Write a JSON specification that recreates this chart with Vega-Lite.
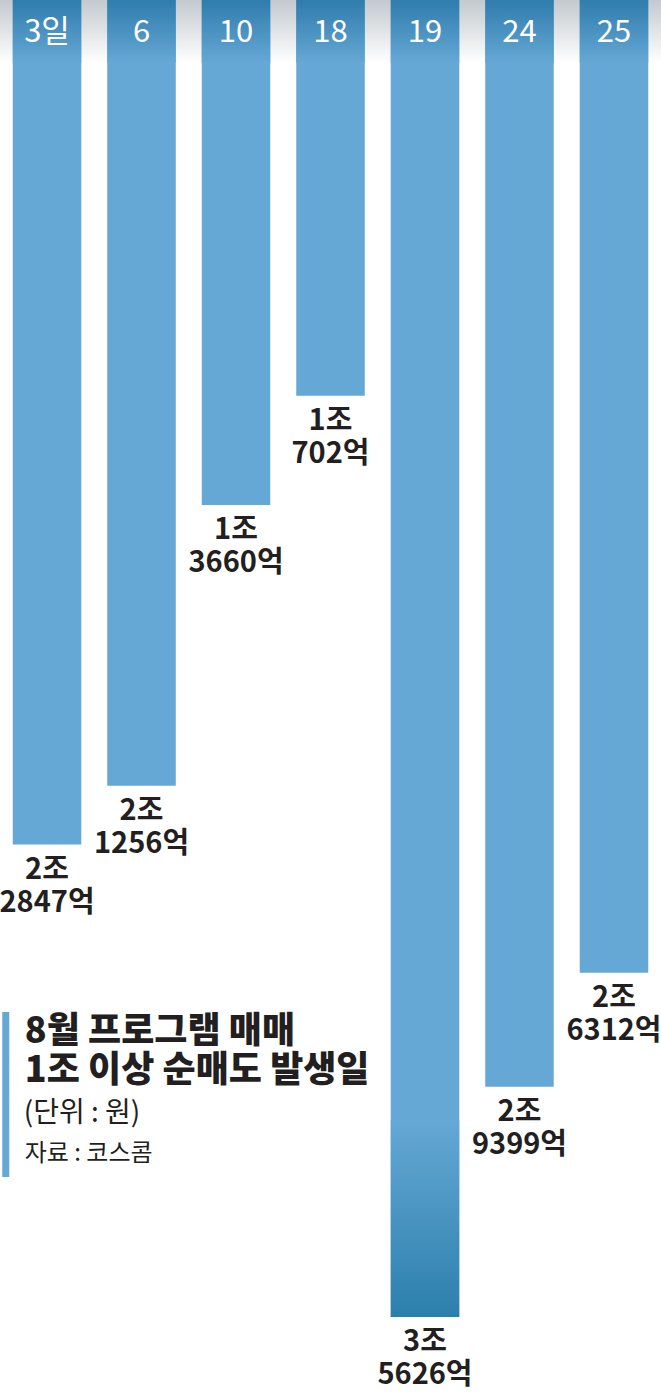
{
  "$schema": "https://vega.github.io/schema/vega-lite/v6.json",
  "width": 661,
  "height": 1394,
  "padding": 0,
  "autosize": {"type": "none"},
  "background": "#ffffff",
  "view": {
    "stroke": null,
    "fill": {"gradient": "linear", "x1": 0, "y1": 0, "x2": 0, "y2": 1,
      "stops": [{"offset": 0, "color": "#c3c9ce"}, {"offset": 0.045, "color": "#ffffff"}, {"offset": 1, "color": "#ffffff"}]}
  },
  "data": {"values": [
    {"day": "3일", "value": 22847, "label": "2조\n2847억"},
    {"day": "6", "value": 21256, "label": "2조\n1256억"},
    {"day": "10", "value": 13660, "label": "1조\n3660억"},
    {"day": "18", "value": 10702, "label": "1조\n702억"},
    {"day": "19", "value": 35626, "label": "3조\n5626억"},
    {"day": "24", "value": 29399, "label": "2조\n9399억"},
    {"day": "25", "value": 26312, "label": "2조\n6312억"}
  ]},
  "encoding": {
    "x": {"field": "day", "type": "nominal", "sort": null,
      "scale": {"paddingInner": 0.275, "paddingOuter": 0.135}, "axis": null}
  },
  "layer": [
    {
      "mark": {"type": "bar", "color": "#65a8d5"},
      "encoding": {
        "y": {"field": "value", "type": "quantitative",
          "scale": {"domain": [0, 37708], "reverse": true, "nice": false, "zero": true}, "axis": null}
      }
    },
    {
      "mark": {"type": "bar", "color": {"gradient": "linear", "x1": 0, "y1": 0, "x2": 0, "y2": 1,
        "stops": [{"offset": 0, "color": "#2f7cad"}, {"offset": 1, "color": "#65a8d5"}]}},
      "encoding": {"y": {"datum": 0, "type": "quantitative"}, "y2": {"datum": 1700}}
    },
    {
      "transform": [{"filter": "datum.day == '19'"}],
      "mark": {"type": "bar", "color": {"gradient": "linear", "x1": 0, "y1": 0, "x2": 0, "y2": 1,
        "stops": [{"offset": 0, "color": "#65a8d5"}, {"offset": 1, "color": "#2c7fac"}]}},
      "encoding": {"y": {"field": "value", "type": "quantitative"}, "y2": {"datum": 30300}}
    },
    {
      "mark": {"type": "text", "color": "#ffffff", "fontSize": 31, "font": "Noto Sans CJK KR", "baseline": "alphabetic", "align": "center"},
      "encoding": {"y": {"datum": 1140, "type": "quantitative"}, "text": {"field": "day"}}
    },
    {
      "mark": {"type": "text", "color": "#231f20", "fontSize": 29, "fontWeight": "bold", "font": "Noto Sans CJK KR", "baseline": "alphabetic", "align": "center", "dy": 34, "lineBreak": "\n", "lineHeight": 33},
      "encoding": {"y": {"field": "value", "type": "quantitative"}, "text": {"field": "label"}}
    },
    {
      "data": {"values": [{}]},
      "mark": {"type": "rule", "color": "#65a8d5", "strokeWidth": 7, "xOffset": -7},
      "encoding": {"x": {"datum": "3일", "type": "nominal", "bandPosition": 0}, "y": {"datum": 27375, "type": "quantitative"}, "y2": {"datum": 31839}}
    },
    {
      "data": {"values": [{}]},
      "mark": {"type": "text", "color": "#231f20", "fontSize": 36, "fontWeight": 900, "font": "Noto Sans CJK KR", "baseline": "alphabetic", "align": "left", "dx": 12, "lineHeight": 39,
        "text": ["8월 프로그램 매매", "1조 이상 순매도 발생일"]},
      "encoding": {"x": {"datum": "3일", "type": "nominal", "bandPosition": 0}, "y": {"datum": 28213, "type": "quantitative"}}
    },
    {
      "data": {"values": [{}]},
      "mark": {"type": "text", "color": "#231f20", "fontSize": 28, "font": "Noto Sans CJK KR", "baseline": "alphabetic", "align": "left", "dx": 11,
        "text": "(단위 : 원)"},
      "encoding": {"x": {"datum": "3일", "type": "nominal", "bandPosition": 0}, "y": {"datum": 30350, "type": "quantitative"}}
    },
    {
      "data": {"values": [{}]},
      "mark": {"type": "text", "color": "#231f20", "fontSize": 24, "font": "Noto Sans CJK KR", "baseline": "alphabetic", "align": "left", "dx": 12,
        "text": "자료 : 코스콤"},
      "encoding": {"x": {"datum": "3일", "type": "nominal", "bandPosition": 0}, "y": {"datum": 31400, "type": "quantitative"}}
    }
  ]
}
